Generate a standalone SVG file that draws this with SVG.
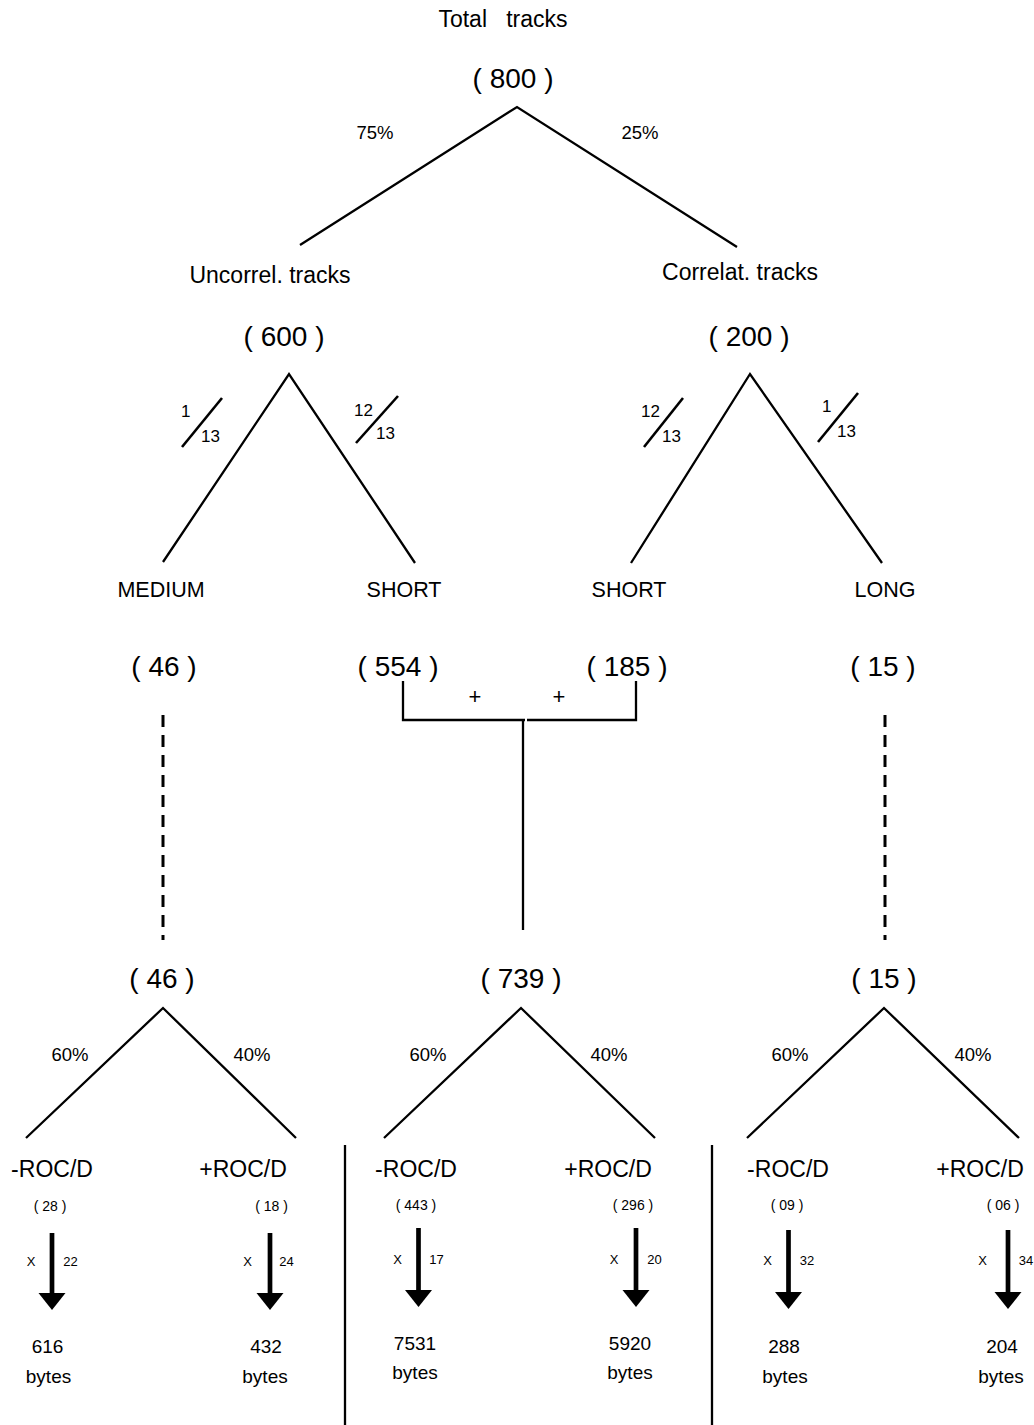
<svg xmlns="http://www.w3.org/2000/svg" width="1034" height="1425" viewBox="0 0 1034 1425">
<defs>
<style>
text{font-family:"Liberation Sans",Arial,sans-serif;fill:#000;text-anchor:middle}
.lbl{font-size:23px}
.big{font-size:28px}
.cat{font-size:21.5px}
.pct{font-size:18.5px}
.frac-t{font-size:17px;text-anchor:start}
.cnt{font-size:14px}
.mul{font-size:13px}
.byt{font-size:19px}
.plus{font-size:22px}
line,polyline{stroke:#000;stroke-width:2.3;fill:none}
.dash{stroke-dasharray:12 8;stroke-width:3}
.frac{stroke-width:2.6}
.shaft{stroke-width:4.7}
</style>
<path id="arrowhead" d="M-13.5,0 L13.5,0 L0,17 Z" fill="#000"/>
</defs>

<g id="connectors">
<polyline points="300,245 517,107 737,247"/>
<polyline points="163,562 289,374 415,563"/>
<polyline points="631,563 750,374 882,563"/>
<line class="frac" x1="182" y1="447" x2="222" y2="398"/>
<line class="frac" x1="356" y1="443" x2="398" y2="396"/>
<line class="frac" x1="644" y1="447" x2="683" y2="398"/>
<line class="frac" x1="818" y1="442" x2="858" y2="393"/>
<line class="dash" x1="163" y1="715" x2="163" y2="940"/>
<line class="dash" x1="885" y1="715" x2="885" y2="940"/>
<polyline points="403,681 403,720 525,720"/>
<polyline points="636,681 636,720 527,720"/>
<line x1="523" y1="720" x2="523" y2="930"/>
<polyline points="26,1138 163,1008 296,1138"/>
<polyline points="384,1138 521,1008 655,1138"/>
<polyline points="747,1138 884,1008 1019,1138"/>
<line x1="345" y1="1145" x2="345" y2="1425"/>
<line x1="712" y1="1145" x2="712" y2="1425"/>
<g id="arrows">
<line class="shaft" x1="52" y1="1233" x2="52" y2="1296"/><use href="#arrowhead" x="52" y="1293"/>
<line class="shaft" x1="270" y1="1233" x2="270" y2="1296"/><use href="#arrowhead" x="270" y="1293"/>
<line class="shaft" x1="418.5" y1="1228" x2="418.5" y2="1293"/><use href="#arrowhead" x="418.5" y="1290"/>
<line class="shaft" x1="636" y1="1228" x2="636" y2="1293"/><use href="#arrowhead" x="636" y="1290"/>
<line class="shaft" x1="788.5" y1="1230" x2="788.5" y2="1295"/><use href="#arrowhead" x="788.5" y="1292"/>
<line class="shaft" x1="1008" y1="1230" x2="1008" y2="1295"/><use href="#arrowhead" x="1008" y="1292"/>
</g>
</g>

<g id="n-total"><text class="lbl" x="503" y="27" xml:space="preserve">Total   tracks</text><text class="big" x="513" y="88">( 800 )</text></g>
<g id="pct-top"><text class="pct" x="375" y="139">75%</text><text class="pct" x="640" y="139">25%</text></g>
<g id="n-uncorrel"><text class="lbl" x="270" y="283">Uncorrel. tracks</text><text class="big" x="284" y="346">( 600 )</text></g>
<g id="n-correl"><text class="lbl" x="740" y="280">Correlat. tracks</text><text class="big" x="749" y="346">( 200 )</text></g>
<g id="fractions">
<text class="frac-t" x="181" y="417">1</text><text class="frac-t" x="201" y="442">13</text>
<text class="frac-t" x="354" y="416">12</text><text class="frac-t" x="376" y="439">13</text>
<text class="frac-t" x="641" y="417">12</text><text class="frac-t" x="662" y="442">13</text>
<text class="frac-t" x="822" y="412">1</text><text class="frac-t" x="837" y="437">13</text>
</g>
<g id="n-medium"><text class="cat" x="161" y="597">MEDIUM</text><text class="big" x="164" y="676">( 46 )</text></g>
<g id="n-short1"><text class="cat" x="404" y="597">SHORT</text><text class="big" x="398" y="676">( 554 )</text></g>
<g id="n-short2"><text class="cat" x="629" y="597">SHORT</text><text class="big" x="627" y="676">( 185 )</text></g>
<g id="n-long"><text class="cat" x="885" y="597">LONG</text><text class="big" x="883" y="676">( 15 )</text></g>
<g id="plus"><text class="plus" x="475" y="704">+</text><text class="plus" x="559" y="704">+</text></g>

<g id="n-46b"><text class="big" x="162" y="988">( 46 )</text></g>
<g id="n-739"><text class="big" x="521" y="988">( 739 )</text></g>
<g id="n-15b"><text class="big" x="884" y="988">( 15 )</text></g>
<g id="pct-bottom">
<text class="pct" x="70" y="1061">60%</text><text class="pct" x="252" y="1061">40%</text>
<text class="pct" x="428" y="1061">60%</text><text class="pct" x="609" y="1061">40%</text>
<text class="pct" x="790" y="1061">60%</text><text class="pct" x="973" y="1061">40%</text>
</g>

<g id="leaf1"><text class="lbl" x="52" y="1177">-ROC/D</text><text class="cnt" x="50" y="1211">( 28 )</text><text class="mul" x="31" y="1266">X</text><text class="mul" x="70.5" y="1266">22</text><text class="byt" x="47.5" y="1353">616</text><text class="byt" x="48.5" y="1383">bytes</text></g>
<g id="leaf2"><text class="lbl" x="243" y="1177">+ROC/D</text><text class="cnt" x="271.5" y="1211">( 18 )</text><text class="mul" x="247.5" y="1266">X</text><text class="mul" x="286.5" y="1266">24</text><text class="byt" x="266" y="1353">432</text><text class="byt" x="265" y="1383">bytes</text></g>
<g id="leaf3"><text class="lbl" x="416" y="1177">-ROC/D</text><text class="cnt" x="416" y="1210">( 443 )</text><text class="mul" x="397.5" y="1264">X</text><text class="mul" x="436.5" y="1264">17</text><text class="byt" x="415" y="1350">7531</text><text class="byt" x="415" y="1379">bytes</text></g>
<g id="leaf4"><text class="lbl" x="608" y="1177">+ROC/D</text><text class="cnt" x="633" y="1210">( 296 )</text><text class="mul" x="614" y="1264">X</text><text class="mul" x="654.5" y="1264">20</text><text class="byt" x="630" y="1350">5920</text><text class="byt" x="630" y="1379">bytes</text></g>
<g id="leaf5"><text class="lbl" x="788" y="1177">-ROC/D</text><text class="cnt" x="787" y="1210">( 09 )</text><text class="mul" x="767.5" y="1265">X</text><text class="mul" x="807" y="1265">32</text><text class="byt" x="784" y="1353">288</text><text class="byt" x="785" y="1383">bytes</text></g>
<g id="leaf6"><text class="lbl" x="980" y="1177">+ROC/D</text><text class="cnt" x="1003" y="1210">( 06 )</text><text class="mul" x="982.5" y="1265">X</text><text class="mul" x="1026" y="1265">34</text><text class="byt" x="1002" y="1353">204</text><text class="byt" x="1001" y="1383">bytes</text></g>
</svg>
